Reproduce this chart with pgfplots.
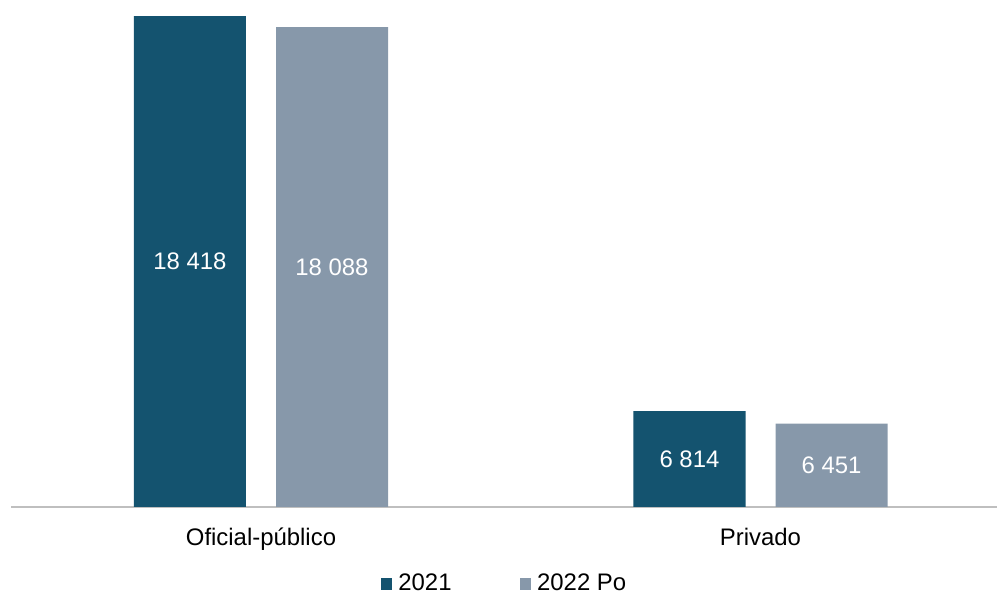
\documentclass[border=0pt]{standalone}
\usepackage{pgfplots}
\pgfplotsset{compat=1.18}
\usepackage{fontspec}
\setmainfont{Liberation Sans}
\definecolor{dark}{RGB}{20,83,111}
\definecolor{greyb}{RGB}{135,152,170}
\definecolor{axisgrey}{RGB}{191,191,191}
\begin{document}
\fontsize{12}{14.4}\selectfont
\begin{tikzpicture}
\begin{axis}[
    at={(0,0)}, anchor=south west,
    scale only axis, width=493bp, height=253.5bp,
    ybar=15bp, bar width=56bp,
    xmin=-0.5005, xmax=1.4735,
    ymin=4000, ymax=18888,
    axis y line=none,
    axis x line=bottom,
    x axis line style={-, draw=axisgrey, line width=1bp},
    xtick={0,1},
    xticklabels={Oficial-público, Privado},
    major tick length=0pt,
    xticklabel style={anchor=north, inner sep=0pt, text height=9bp, text depth=3bp, yshift=-10.3bp},
    point meta=explicit symbolic,
    visualization depends on={rawy \as \rawy},
    nodes near coords,
    every node near coord/.append style={anchor=center, text=white, inner sep=0pt,
        shift={(axis direction cs:0,{-(\rawy-4000)/2})}},
    legend columns=2,
    legend style={at={(0.5,-0.1516)}, anchor=center, draw=none, inner sep=0pt,
        nodes={inner sep=0.5bp},
        /tikz/every even column/.append style={column sep=33.5bp}},
    legend image code/.code={\fill[#1,draw=none] (0bp,-2.9bp) rectangle (5.8bp,2.9bp); \path (8.3bp,0bp);},
]
\addplot[fill=dark, draw=none] coordinates {(0,18418) [18 418] (1,6814) [6 814]};
\addplot[fill=greyb, draw=none] coordinates {(0,18088) [18 088] (1,6451) [6 451]};
\legend{2021, 2022 Po}
\end{axis}
\pgfresetboundingbox
\path (-5.5bp,-44.5bp) rectangle (493bp,253.5bp);
\end{tikzpicture}
\end{document}
